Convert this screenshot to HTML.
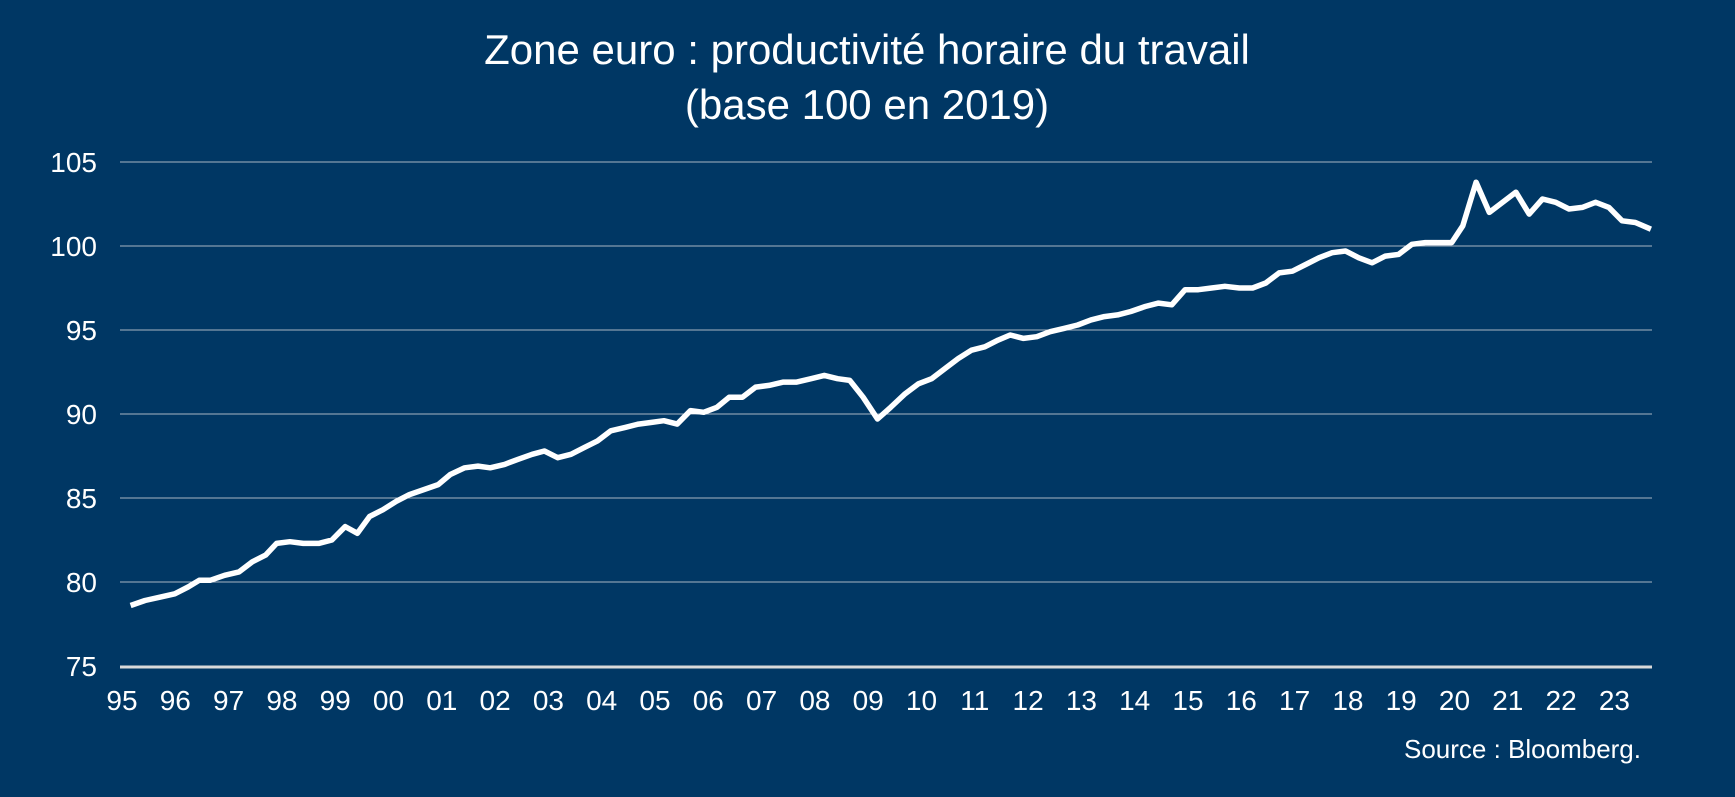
<!DOCTYPE html>
<html><head><meta charset="utf-8"><style>
html,body{margin:0;padding:0;background:#003764;}
svg{display:block;font-family:"Liberation Sans",Arial,sans-serif;}
</style></head><body>
<svg id="c" width="1735" height="797" viewBox="0 0 1735 797">
<rect width="1735" height="797" fill="#003764"/>
<text x="867" y="64" fill="#fff" font-size="42" text-anchor="middle">Zone euro : productivité horaire du travail</text>
<text x="867" y="119" fill="#fff" font-size="42" text-anchor="middle">(base 100 en 2019)</text>
<g id="grid" stroke="#a9b4c2" stroke-width="1"></g>
<g id="ylab" fill="#fff" font-size="28" text-anchor="end"></g>
<line x1="120" y1="667" x2="1652" y2="667" stroke="#d9d9d9" stroke-width="3"/>
<g id="xlab" fill="#fff" font-size="28" text-anchor="middle"></g>
<polyline id="line" fill="none" stroke="#fff" stroke-width="5.5" stroke-linejoin="round"/>
<text x="1641" y="758" fill="#fff" font-size="26" text-anchor="end">Source : Bloomberg.</text>
</svg>
<script>
var ns="http://www.w3.org/2000/svg";
function Y(v){return 162+(105-v)*16.8;}
var g=document.getElementById("grid"),yl=document.getElementById("ylab"),xl=document.getElementById("xlab");
for(var v=80;v<=105;v+=5){var l=document.createElementNS(ns,"line");l.setAttribute("x1",120);l.setAttribute("x2",1652);l.setAttribute("y1",Y(v));l.setAttribute("y2",Y(v));g.appendChild(l);}
for(var v=75;v<=105;v+=5){var t=document.createElementNS(ns,"text");t.setAttribute("x",97);t.setAttribute("y",Y(v)+10);t.textContent=v;yl.appendChild(t);}
var yrs=["95","96","97","98","99","00","01","02","03","04","05","06","07","08","09","10","11","12","13","14","15","16","17","18","19","20","21","22","23"];
for(var i=0;i<yrs.length;i++){var t=document.createElementNS(ns,"text");t.setAttribute("x",122+i*53.3);t.setAttribute("y",710);t.textContent=yrs[i];xl.appendChild(t);}
var d=[118,78.6,131,78.9,145,79.1,158,79.3,170,79.7,180,80.1,190,80.1,203,80.4,216,80.6,228,81.2,240,81.6,250,82.3,262,82.4,274,82.3,288,82.3,300,82.5,312,83.3,323,82.9,334,83.9,346,84.3,358,84.8,370,85.2,383,85.5,396,85.8,407,86.4,420,86.8,432,86.9,443,86.8,456,87.0,468,87.3,481,87.6,492,87.8,504,87.4,516,87.6,528,88.0,540,88.4,552,89.0,565,89.2,577,89.4,589,89.5,600,89.6,612,89.4,624,90.2,636,90.1,648,90.4,659,91.0,671,91.0,683,91.6,695,91.7,708,91.9,720,91.9,733,92.1,745,92.3,757,92.1,768,92.0,780,91.0,793,89.7,805,90.4,818,91.2,830,91.8,842,92.1,854,92.7,866,93.3,878,93.8,890,94.0,902,94.4,913,94.7,925,94.5,937,94.6,949,94.9,962,95.1,974,95.3,986,95.6,998,95.8,1010,95.9,1022,96.1,1035,96.4,1047,96.6,1059,96.5,1071,97.4,1083,97.4,1095,97.5,1107,97.6,1120,97.5,1132,97.5,1144,97.8,1156,98.4,1168,98.5,1180,98.9,1192,99.3,1204,99.6,1216,99.7,1228,99.3,1240,99.0,1252,99.4,1264,99.5,1276,100.1,1288,100.2,1300,100.2,1312,100.2,1322,101.2,1334,103.8,1346,102.0,1358,102.6,1370,103.2,1382,101.9,1394,102.8,1406,102.6,1418,102.2,1430,102.3,1442,102.6,1454,102.3,1466,101.5,1478,101.4,1492,101.0];
var p=[];for(var i=0;i<d.length;i+=2){p.push((d[i]*1.1065).toFixed(1)+","+Y(d[i+1]).toFixed(1));}
document.getElementById("line").setAttribute("points",p.join(" "));
</script>
</body></html>
